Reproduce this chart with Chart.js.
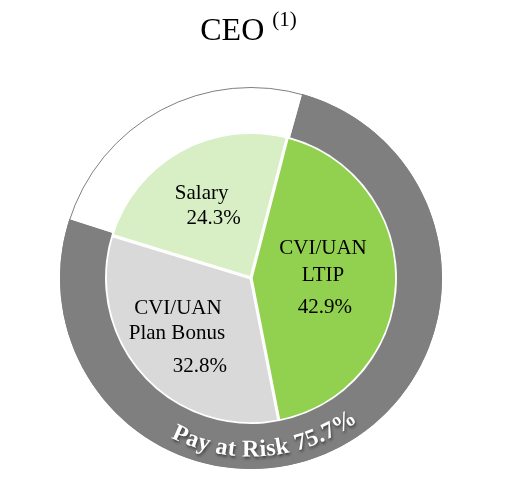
<!DOCTYPE html>
<html>
<head>
<meta charset="utf-8">
<script src="https://cdn.jsdelivr.net/npm/chart.js@4/dist/chart.umd.min.js"></script>
<style>
  body { margin: 0; background: #fff; }
  #wrap { position: relative; width: 507px; height: 496px; }
  #title { position: absolute; left: 0; top: 9px; width: 497px; text-align: center;
           font-family: "Liberation Serif", "Times New Roman", serif; font-size: 32px; color: #000; }
  #title sup { font-size: 21px; position: relative; top: -2px; }
  canvas { position: absolute; left: 0; top: 0; }
</style>
</head>
<body>
<div id="wrap">
  <canvas id="c" width="507" height="496"></canvas>
  <div id="title">CEO <sup>(1)</sup></div>
</div>
<script>
// --- datos ---
const slices = ['CVI/UAN LTIP', 'CVI/UAN Plan Bonus', 'Salary'];
const sliceValues = [42.9, 32.8, 24.3];
const ringLabels = ['Pay at Risk', 'Fixed'];
const ringValues = [75.7, 24.3];

// líneas de cada etiqueta (texto) y su colocación dentro de la rebanada
const labelLines = [['CVI/UAN', 'LTIP', '42.9%'], ['CVI/UAN', 'Plan Bonus', '32.8%'], ['Salary', '24.3%']];
const labelPos = [
  { r: 0.5, off: [[-1, -32], [-1, -5], [1, 27]] },
  { r: 0.6, off: [[-8, -28], [-9, -3], [14, 30]] },
  { r: 0.58, off: [[-8, -11], [4, 14]] },
];

const SERIF = '"Liberation Serif", "Times New Roman", serif';

// etiquetas dentro del pastel
const pieLabels = {
  id: 'pieLabels',
  afterDatasetsDraw(chart) {
    const ctx = chart.ctx;
    const meta = chart.getDatasetMeta(1);
    ctx.save();
    ctx.font = '21px ' + SERIF;
    ctx.fillStyle = '#000';
    ctx.textAlign = 'center';
    ctx.textBaseline = 'middle';
    meta.data.forEach((arc, i) => {
      const mid = (arc.startAngle + arc.endAngle) / 2;
      const rr = arc.outerRadius * labelPos[i].r;
      const ax = arc.x + Math.cos(mid) * rr;
      const ay = arc.y + Math.sin(mid) * rr;
      labelLines[i].forEach((t, j) => {
        const [dx, dy] = labelPos[i].off[j];
        ctx.fillText(t, ax + dx, ay + dy);
      });
    });
    ctx.restore();
  }
};

// borde exterior fino y texto curvo "Pay at Risk 75.7%"
const ringText = {
  id: 'ringText',
  afterDraw(chart) {
    const ctx = chart.ctx;
    const arc = chart.getDatasetMeta(0).data[0];
    const cx = arc.x, cy = arc.y;
    ctx.save();
    ctx.beginPath();
    ctx.arc(cx, cy, arc.outerRadius - 0.5, 0, Math.PI * 2);
    ctx.strokeStyle = '#7f7f7f';
    ctx.lineWidth = 1;
    ctx.stroke();

    const text = `${ringLabels[0]} ${ringValues[0]}%`;
    ctx.font = 'bold 24px ' + SERIF;
    ctx.fillStyle = '#fff';
    ctx.textAlign = 'center';
    ctx.textBaseline = 'alphabetic';
    ctx.shadowColor = 'rgba(0,0,0,0.55)';
    ctx.shadowBlur = 3;
    ctx.shadowOffsetX = 1;
    ctx.shadowOffsetY = 2;
    const r = (arc.innerRadius + arc.outerRadius) / 2 + 10;
    const spacing = 0.5;
    const widths = [...text].map((ch) => ctx.measureText(ch).width + spacing);
    const total = widths.reduce((a, b) => a + b, 0);
    let a = Math.PI / 2 - 5 * Math.PI / 180 + (total / r) / 2;
    [...text].forEach((ch, k) => {
      const half = widths[k] / 2 / r;
      a -= half;
      ctx.save();
      ctx.translate(cx + Math.cos(a) * r, cy + Math.sin(a) * r);
      ctx.rotate(a - Math.PI / 2);
      ctx.fillText(ch, 0, 0);
      ctx.restore();
      a -= half;
    });
    ctx.restore();
  }
};

new Chart(document.getElementById('c'), {
  type: 'doughnut',
  data: {
    labels: slices,
    datasets: [
      { data: ringValues, backgroundColor: ['#7f7f7f', '#ffffff'], borderWidth: 0,
        rotation: 15.5, weight: 45 },
      { data: sliceValues, backgroundColor: ['#92d050', '#d9d9d9', '#d8efc6'],
        borderColor: '#ffffff', borderWidth: 1.6, borderAlign: 'inner',
        rotation: 14.5, weight: 146 },
    ],
  },
  options: {
    responsive: false, animation: false, cutout: 0,
    layout: { padding: { top: 87, bottom: 27, left: 60, right: 65 } },
    plugins: { legend: { display: false }, tooltip: { enabled: false }, title: { display: false } },
  },
  plugins: [pieLabels, ringText],
});
</script>
</body>
</html>
